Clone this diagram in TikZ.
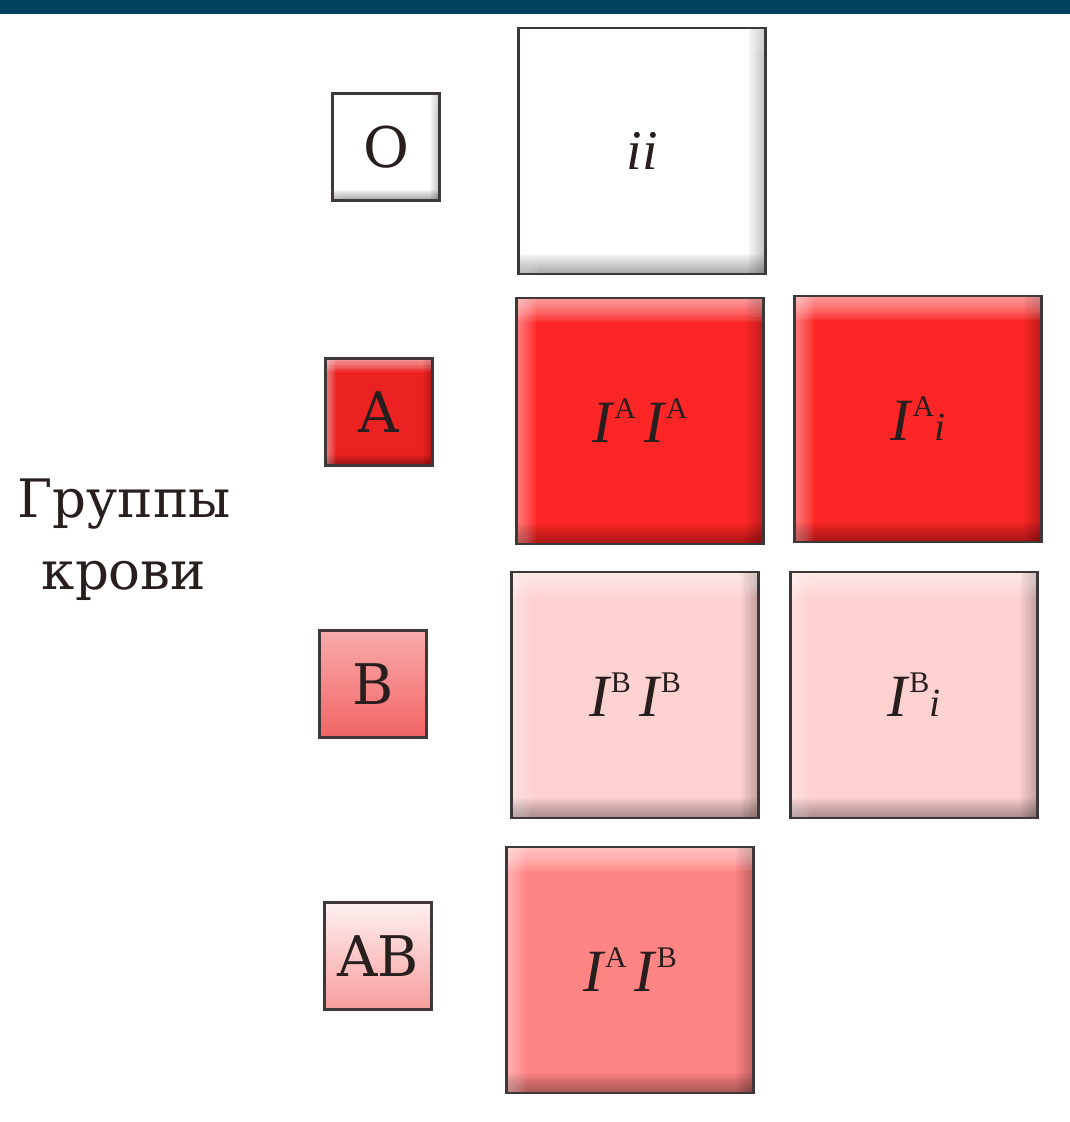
\documentclass[tikz,border=0pt]{standalone}
\usepackage{fontspec}
\setmainfont{Liberation Serif}
\newfontfamily\slabfont{DejaVu Serif}

\definecolor{barblue}{RGB}{2,66,96}
\definecolor{tileedge}{RGB}{62,56,56}
\definecolor{bloodred}{RGB}{252,38,38}
\definecolor{smallred}{RGB}{236,34,34}
\definecolor{palepink}{RGB}{255,210,210}
\definecolor{salmon}{RGB}{255,132,132}
\definecolor{midpink}{RGB}{240,112,112}
\definecolor{textdark}{RGB}{40,30,30}

% genotype lettering
\newcommand\gI{{\fontsize{60}{60}\selectfont\itshape I}}
\newcommand\gsup[1]{\hspace{2pt}\raisebox{24pt}{\fontsize{30}{30}\selectfont #1}}
\newcommand\gi[1][40]{{\fontsize{#1}{#1}\selectfont\itshape i}}

\tikzset{
  % raised-tile look: stacked translucent strips, light top/left, dark bottom/right
  bevel/.style={path picture={
      \foreach \k in {1,...,10} {
        \fill[white, opacity=0.05]
          (path picture bounding box.north west) rectangle
          ([xshift=0.09*\k*#1]path picture bounding box.south west);
        \fill[white, opacity=0.075]
          (path picture bounding box.north west) rectangle
          ([yshift=-0.11*\k*#1]path picture bounding box.north east);
        \fill[black, opacity=0.022]
          (path picture bounding box.south east) rectangle
          ([xshift=-0.08*\k*#1]path picture bounding box.north east);
        \fill[black, opacity=0.035]
          (path picture bounding box.south west) rectangle
          ([yshift=0.09*\k*#1]path picture bounding box.south east);
      }
  }},
  bigtile/.style={draw=tileedge, line width=2.8pt, minimum width=247pt,
    minimum height=246pt, inner sep=0pt, text=textdark, fill=#1,
    bevel=22pt},
  smalltile/.style={draw=tileedge, line width=2.6pt, minimum width=107pt,
    minimum height=107pt, inner sep=0pt, text=textdark, fill=#1,
    bevel=12pt, font=\slabfont\fontsize{56}{56}\selectfont},
  gradtile/.style 2 args={draw=tileedge, line width=2.6pt, minimum width=107pt,
    minimum height=107pt, inner sep=0pt, text=textdark,
    top color=#1, bottom color=#2, font=\slabfont\fontsize{56}{56}\selectfont},
}

\begin{document}
\begin{tikzpicture}[x=1pt, y=-1pt]
\useasboundingbox (0,0) rectangle (1070,1122);

% header strip
\node[fill=barblue, minimum width=1070pt, minimum height=14pt, inner sep=0pt,
      anchor=north west] (bar) at (0,0) {};

% side caption
\node[align=center, text=textdark, font=\slabfont\fontsize{53}{72}\selectfont]
  (caption) at (124,540) {Группы\\крови};

% phenotype tiles
\node[smalltile=white] (gO) at (386,147) {O};
\node[smalltile=smallred] (gA) at (379,412) {A};
\node[gradtile={palepink!60!midpink}{midpink!90!red}] (gB) at (373,684) {B};
\node[gradtile={white!70!palepink}{palepink!45!midpink}] (gAB) at (378,956) {AB};

% genotype tiles
\node[bigtile=white] (ii) at (642,151) {\gi[56]\gi[56]};
\node[bigtile=bloodred] (AA) at (640,421) {\gI\gsup{A}\hspace{8pt}\gI\gsup{A}};
\node[bigtile=bloodred] (Ai) at (918,419) {\gI\gsup{A}\gi};
\node[bigtile=palepink] (BB) at (635,695) {\gI\gsup{B}\hspace{8pt}\gI\gsup{B}};
\node[bigtile=palepink] (Bi) at (914,695) {\gI\gsup{B}\gi};
\node[bigtile=salmon] (AB) at (630,970) {\gI\gsup{A}\hspace{8pt}\gI\gsup{B}};
\end{tikzpicture}
\end{document}
